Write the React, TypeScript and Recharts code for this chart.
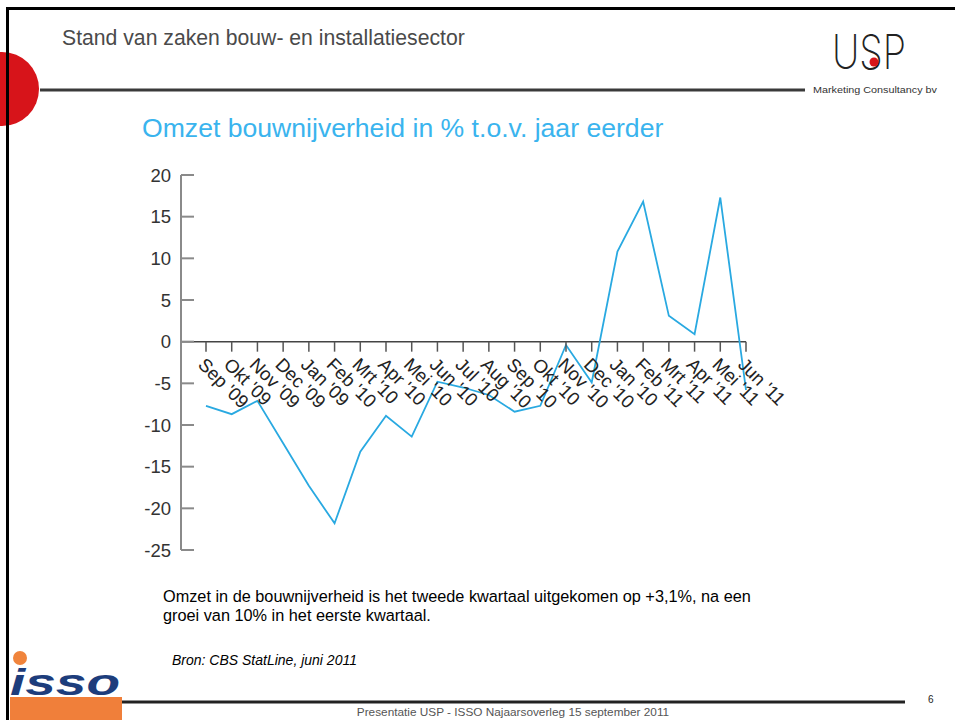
import React from 'react';
import { LineChart, Line, XAxis, YAxis, ReferenceLine, ReferenceDot } from 'recharts';

const months = [
  "Sep '09", "Okt '09", "Nov '09", "Dec '09", "Jan '09", "Feb '10", "Mrt '10", "Apr '10",
  "Mei '10", "Jun '10", "Jul '10", "Aug '10", "Sep '10", "Okt '10", "Nov '10", "Dec '10",
  "Jan '10", "Feb '11", "Mrt '11", "Apr '11", "Mei '11", "Jun '11",
];
const omzet = [
  -7.7, -8.7, -7.1, -12.2, -17.3, -21.8, -13.2, -8.9,
  -11.4, -4.8, -5.5, -6.4, -8.4, -7.7, -0.4, -4.9,
  10.8, 16.8, 3.1, 0.9, 17.3, -5.8,
];
const yTicks = [-25, -20, -15, -10, -5, 0, 5, 10, 15, 20];

const pageTitle = 'Stand van zaken bouw- en installatiesector';
const chartTitle = 'Omzet bouwnijverheid in % t.o.v. jaar eerder';
const caption1 = 'Omzet in de bouwnijverheid is het tweede kwartaal uitgekomen op +3,1%, na een';
const caption2 = 'groei van 10% in het eerste kwartaal.';
const source = 'Bron: CBS StatLine, juni 2011';
const footer = 'Presentatie USP - ISSO Najaarsoverleg 15 september 2011';

const data = months.map((m, i) => ({ month: m, omzet: omzet[i] }));

const FONT = '"Liberation Sans", Arial, Helvetica, sans-serif';
const BLUE = '#29a9e1';

const YTick = (props: any) => {
  const { x, y, payload } = props;
  return (
    <g>
      <line x1={x + 10} y1={y} x2={x + 23} y2={y} stroke="#8a8a8a" strokeWidth={2} />
      <text x={x} y={y} dy="0.36em" textAnchor="end" fontSize={18.5} fill="#333" fontFamily={FONT}>
        {payload.value}
      </text>
    </g>
  );
};

const MonthTick = (props: any) => {
  const { cx, cy, label } = props;
  const tx = cx - 9;
  const ty = cy + 24;
  return (
    <g>
      <line x1={cx} y1={cy} x2={cx} y2={cy + 10} stroke="#555" strokeWidth={1.5} />
      <text x={tx} y={ty} transform={`rotate(45 ${tx} ${ty})`} fontSize={18.5} fill="#222" fontFamily={FONT}>
        {label}
      </text>
    </g>
  );
};

export default function App() {
  return (
    <div style={{ position: 'absolute', left: 0, top: 0, width: 955, height: 720, background: '#fff', overflow: 'hidden' }}>
      <svg width={955} height={720} style={{ position: 'absolute', left: 0, top: 0 }}>
        <rect x={0} y={0} width={955} height={720} fill="#fff" />
        {/* red circle */}
        <circle cx={2} cy={89} r={37} fill="#d7141a" />
        {/* border */}
        <line x1={7.5} y1={8.5} x2={955} y2={8.5} stroke="#000" strokeWidth={3} />
        <line x1={7.5} y1={7} x2={7.5} y2={720} stroke="#000" strokeWidth={3} />
        {/* header */}
        <text x={62} y={45} fontSize={21.2} fill="#4a4a4a" fontFamily={FONT}>{pageTitle}</text>
        <line x1={40} y1={90} x2={805} y2={90} stroke="#3a3a3a" strokeWidth={3} />
        {/* USP logo */}
        <text x={832} y={69} fontSize={48} fontWeight={200} fill="#222" fontFamily='Inter, "Open Sans", Lato, sans-serif' textLength={74} lengthAdjust="spacingAndGlyphs">USP</text>
        <circle cx={874} cy={62} r={4.5} fill="#d7141a" />
        <text x={813} y={93} fontSize={9.5} fill="#333" fontFamily={FONT} textLength={124} lengthAdjust="spacingAndGlyphs">Marketing Consultancy bv</text>
        {/* chart title */}
        <text x={142} y={137} fontSize={26.6} fill="#3ab4ee" fontFamily={FONT}>{chartTitle}</text>
        {/* caption */}
        <text x={163} y={602} fontSize={16.3} fill="#000" fontFamily={FONT}>{caption1}</text>
        <text x={163} y={621} fontSize={16.3} fill="#000" fontFamily={FONT}>{caption2}</text>
        <text x={172} y={665} fontSize={14} fontStyle="italic" fill="#000" fontFamily={FONT}>{source}</text>
        {/* ISSO logo */}
        <circle cx={20} cy={658} r={7} fill="#f0843c" />
        <rect x={10} y={697} width={112} height={23} fill="#f07f3a" />
        <text x={10} y={695} fontSize={36} fontWeight={900} fontStyle="italic" fill="#1d3d7c" fontFamily={FONT} textLength={110} lengthAdjust="spacingAndGlyphs">isso</text>
        {/* footer */}
        <line x1={122} y1={702} x2={905} y2={702} stroke="#222" strokeWidth={3} />
        <text x={928} y={703} fontSize={10} fill="#222" fontFamily={FONT}>6</text>
        <text x={513} y={716} fontSize={11.8} fill="#555" textAnchor="middle" fontFamily={FONT}>{footer}</text>
      </svg>
      <div style={{ position: 'absolute', left: 0, top: 0 }}>
        <LineChart width={955} height={720} data={data} margin={{ top: 175, right: 209, bottom: 170, left: 121 }}>
          <XAxis dataKey="month" type="category" hide padding={{ left: 25, right: 0 }} />
          <YAxis
            width={60}
            domain={[-25, 20]}
            ticks={yTicks}
            interval={0}
            tickSize={0}
            tickMargin={10}
            tickLine={false}
            axisLine={{ stroke: '#8a8a8a', strokeWidth: 2 }}
            tick={<YTick />}
          />
          <ReferenceLine y={0} stroke="#444" strokeWidth={1.5} />
          {months.map((m) => (
            <ReferenceDot
              key={m}
              x={m}
              y={0}
              r={0}
              shape={(p: any) => <MonthTick {...p} label={m} />}
            />
          ))}
          <Line type="linear" dataKey="omzet" stroke={BLUE} strokeWidth={1.8} dot={false} isAnimationActive={false} />
        </LineChart>
      </div>
    </div>
  );
}
